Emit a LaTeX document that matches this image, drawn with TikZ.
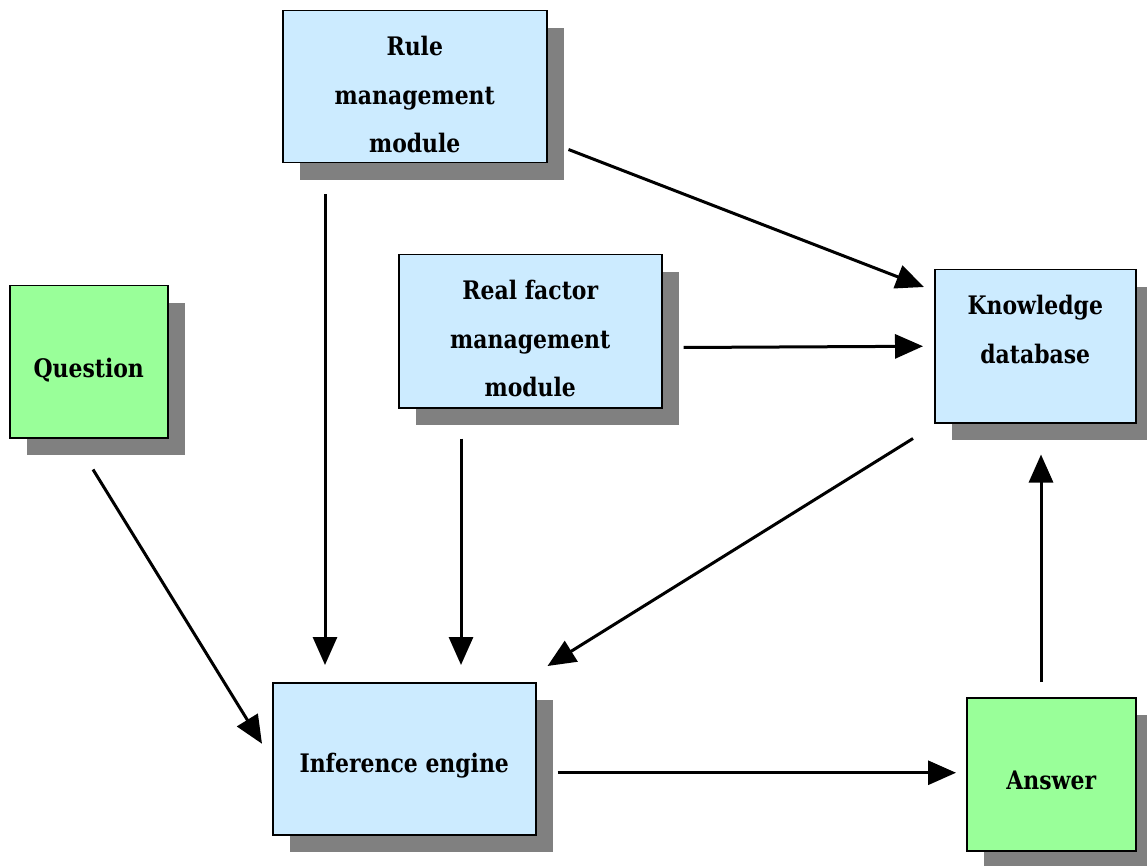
\documentclass[tikz,border=0pt]{standalone}
\usepackage{fontspec}
\setmainfont{DejaVu Serif}[FakeStretch=0.86]
\usetikzlibrary{arrows.meta,shadows,positioning}
\definecolor{modblue}{HTML}{CCEBFF}
\definecolor{iogreen}{HTML}{99FF99}
\definecolor{shade}{HTML}{808080}
\begin{document}
\begin{tikzpicture}[x=1pt,y=-1pt,
  box/.style={draw=black,line width=1.5pt,anchor=north west,inner sep=0pt,
    drop shadow={shadow xshift=17pt,shadow yshift=-17pt,fill=shade,opacity=1}},
  modbox/.style={box,fill=modblue},
  iobox/.style={box,fill=iogreen},
  caption/.style={align=center,inner sep=0pt,
    font=\bfseries\fontsize{25.5}{48.5}\selectfont},
  arr/.style={line width=3pt,-{Triangle[length=28pt,width=24pt]}}]
\useasboundingbox (0,0) rectangle (1147,866);
% modules and data stores
\node[modbox,minimum width=264pt,minimum height=152pt] (rule) at (282,10) {};
\node[modbox,minimum width=263pt,minimum height=153pt] (real) at (398,254) {};
\node[modbox,minimum width=201pt,minimum height=153pt] (know) at (934,269) {};
\node[modbox,minimum width=263pt,minimum height=152pt] (inf) at (272,682) {};
% input and output
\node[iobox,minimum width=158pt,minimum height=152pt] (q) at (9,285) {};
\node[iobox,minimum width=169pt,minimum height=153pt] (ans) at (966,697) {};
% box texts
\node[caption] (rule-t) at ([yshift=-8pt]rule.center) {Rule\\management\\module};
\node[caption] (real-t) at ([yshift=-7.5pt]real.center) {Real factor\\management\\module};
\node[caption] (know-t) at ([yshift=17pt]know.center) {Knowledge\\database};
\node[caption] (inf-t) at ([yshift=-7pt]inf.center) {Inference engine};
\node[caption] (q-t) at ([yshift=-8pt]q.center) {Question};
\node[caption] (ans-t) at ([yshift=-6.5pt]ans.center) {Answer};
% connectors
\draw[arr] ([xshift=21pt,yshift=14pt]rule.south east) -- ([xshift=-10pt,yshift=-18pt]know.north west);
\draw[arr] ([xshift=43pt,yshift=-31pt]rule.south west) -- ([xshift=53pt,yshift=17pt]inf.north west);
\draw[arr] ([xshift=63pt,yshift=-30pt]real.south west) -- ([xshift=189pt,yshift=17pt]inf.north west);
\draw[arr] ([xshift=21pt,yshift=61pt]real.south east) -- ([xshift=-11pt]know.west);
\draw[arr] ([xshift=-21pt,yshift=-15pt]know.south west) -- ([xshift=11pt,yshift=16pt]inf.north east);
\draw[arr] ([xshift=84pt,yshift=-31pt]q.south west) -- ([xshift=-10pt,yshift=15pt]inf.west);
\draw[arr] ([xshift=21pt,yshift=-14pt]inf.east) -- ([xshift=-10pt,yshift=1.5pt]ans.west);
\draw[arr] ([xshift=75pt,yshift=15pt]ans.north west) -- ([xshift=107pt,yshift=-31pt]know.south west);
\end{tikzpicture}
\end{document}
